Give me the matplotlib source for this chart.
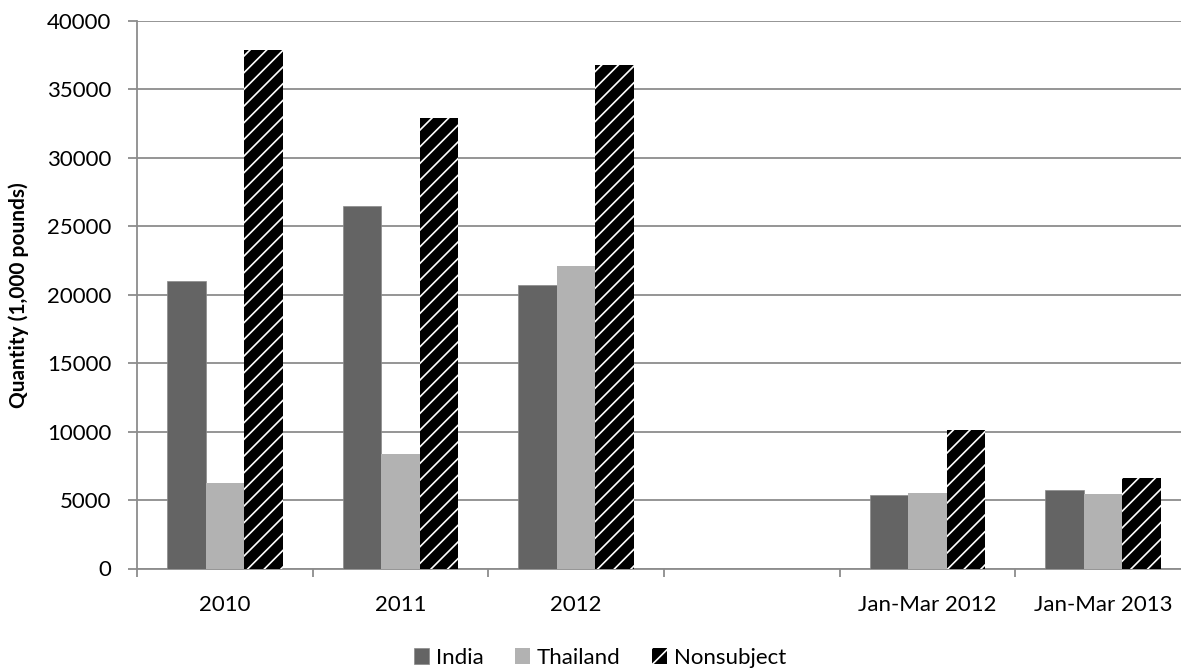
"""Grouped bar chart of import quantities by source."""

import numpy as np
import matplotlib.pyplot as plt

periods = ["2010", "2011", "2012", "", "Jan-Mar 2012", "Jan-Mar 2013"]
india = [21000, 26450, 20700, np.nan, 5400, 5700]
thailand = [6250, 8400, 22100, np.nan, 5500, 5450]
nonsubject = [37900, 32900, 36800, np.nan, 10150, 6600]

plt.rcParams['font.family'] = ['Lato', 'DejaVu Sans']
plt.rcParams['hatch.linewidth'] = 1.2

fig = plt.figure(figsize=(11.81, 6.70), dpi=100)
ax = fig.add_axes([137 / 1181, 1 - 568.5 / 670, 1054 / 1181, 547.5 / 670])

x = np.arange(len(periods))
w = 0.22
ax.bar(x - w, india, w, color='#646464', edgecolor='#8a8a8a', linewidth=0.5,
       label='India', zorder=3)
ax.bar(x, thailand, w, color='#b2b2b2', linewidth=0, label='Thailand', zorder=3)
ax.bar(x + w, nonsubject, w, color='black', edgecolor='white', linewidth=0,
       hatch='//', label='Nonsubject', zorder=3)

# axis ranges and grid
ax.set_xlim(-0.5, len(periods) - 0.5)
ax.set_ylim(0, 40000)
ax.set_yticks(np.arange(0, 40001, 5000))
ax.yaxis.grid(True, color='#8c8c8c', linewidth=1.3, zorder=0)
ax.set_axisbelow(True)

for s in ['top', 'right']:
    ax.spines[s].set_visible(False)
for s in ['left', 'bottom']:
    ax.spines[s].set_color('#8c8c8c')
    ax.spines[s].set_linewidth(1.3)

# labels at group centres, tick marks between groups
ax.set_xticks(x)
ax.set_xticklabels(periods)
ax.set_xticks(np.arange(-0.5, len(periods)), minor=True)
ax.tick_params(axis='x', which='major', length=0, pad=19, labelsize=16)
ax.tick_params(axis='x', which='minor', length=6, width=1.3, color='#8c8c8c')
ax.tick_params(axis='y', length=6.5, width=1.3, color='#8c8c8c', pad=12,
               labelsize=16)

fig.text(19 / 1181, 1 - 295 / 670, 'Quantity (1,000 pounds)', rotation=90,
         ha='center', va='center', fontsize=15, fontweight='bold')

fig.legend(loc='center', bbox_to_anchor=(600 / 1181, 1 - 658 / 670), ncol=3,
           frameon=False, fontsize=16, handlelength=0.7, handleheight=0.7,
           handletextpad=0.3, columnspacing=1.4)

fig.savefig('out.png', dpi=100)
